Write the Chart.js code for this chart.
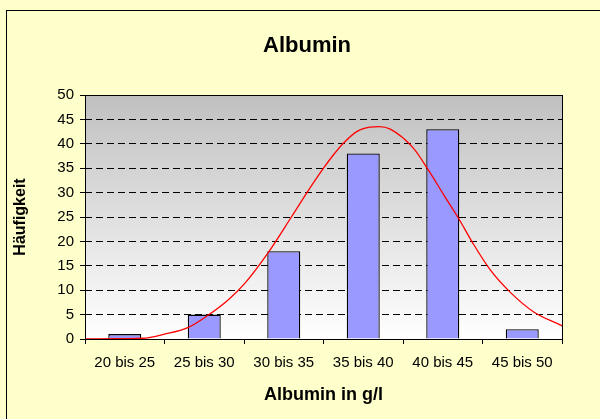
<!DOCTYPE html>
<html>
<head>
<meta charset="utf-8">
<script src="https://cdn.jsdelivr.net/npm/chart.js@4"></script>
<style>
body{margin:0;background:#FFFFCC;}
#wrap{width:600px;height:419px;}
</style>
</head>
<body>
<div id="wrap"><canvas id="albuminChart" width="600" height="419"></canvas></div>
<script>
const categories=['20 bis 25','25 bis 30','30 bis 35','35 bis 40','40 bis 45','45 bis 50'];
const counts=[1,5,18,38,43,2];

// red normal curve (g/l, Häufigkeit)
const curveX=[20,22,23.6,25.0,26.5,27.75,29.0,30.05,31.5,33.0,33.94,35.0,35.62,36.25,37.09,37.92,38.5,39.2,40.65,41.6,42.55,43.5,44.4,45.5,46.8,48.2,50];
const curveY=[0,0.05,0.15,1.0,2.4,4.9,8.0,11.4,17.6,25.1,29.9,35.0,37.7,40.1,42.5,43.4,43.5,43.0,39.1,34.6,29.6,24.7,19.6,14.1,9.4,5.6,2.7];

const FONT='"Liberation Sans", Arial, sans-serif';

const bgPlugin={
id:'excelBg',
beforeDraw(chart){
const {ctx,chartArea:a}=chart;
ctx.save();
ctx.fillStyle='#FFFFCC';
ctx.fillRect(0,0,chart.width,chart.height);
const g=ctx.createLinearGradient(0,a.top,0,a.bottom);
g.addColorStop(0,'#C0C0C0');
g.addColorStop(1,'#FFFFFF');
ctx.fillStyle=g;
ctx.fillRect(a.left,a.top,a.right-a.left,a.bottom-a.top);
ctx.strokeStyle='#000';
ctx.lineWidth=1;
ctx.strokeRect(6.5,10.5,700,500);
ctx.restore();
},
afterDraw(chart){
const {ctx,chartArea:a}=chart;
ctx.save();
ctx.strokeStyle='#000';
ctx.lineWidth=1;
ctx.strokeRect(Math.round(a.left)+0.5,Math.round(a.top)+0.5,Math.round(a.right-a.left),Math.round(a.bottom-a.top));
ctx.restore();
}
};

new Chart(document.getElementById('albuminChart'),{
type:'bar',
data:{
labels:categories,
datasets:[
{
data:counts,
xAxisID:'x',
yAxisID:'y',
backgroundColor:'#9999FF',
borderColor:'#000000',
borderWidth:1.3,
barPercentage:0.415,
categoryPercentage:1,
grouped:false,
order:1
},
{
type:'line',
data:curveX.map((x,i)=>({x:x,y:curveY[i]})),
xAxisID:'x2',
yAxisID:'y',
borderColor:'#FF0000',
borderWidth:1.3,
pointRadius:0,
cubicInterpolationMode:'monotone',
fill:false,
order:0
}
]
},
options:{
responsive:false,
animation:false,
layout:{padding:{left:14,right:0,top:0,bottom:0}},
plugins:{
legend:{display:false},
tooltip:{enabled:false},
title:{
display:true,
text:'Albumin',
color:'#000',
font:{family:FONT,size:22,weight:'bold'},
padding:{top:33,bottom:35.6}
}
},
scales:{
x:{
type:'category',
offset:true,
grid:{display:true,drawOnChartArea:false,offset:true,tickLength:5,color:'#000',tickColor:'#000'},
border:{display:false},
ticks:{color:'#000',font:{family:FONT,size:15},padding:10,maxRotation:0},
title:{display:true,text:'Albumin in g/l',color:'#000',font:{family:FONT,size:18,weight:'bold'},padding:{top:0,bottom:13}},
afterFit(s){s.height=80;}
},
x2:{
type:'linear',
display:false,
min:20,
max:50,
offset:false
},
y:{
min:0,
max:50,
ticks:{stepSize:5,color:'#000',font:{family:FONT,size:15},padding:6},
grid:{
tickLength:5,
tickColor:'#000',
color:(c)=>(c.tick&&(c.tick.value===0||c.tick.value===50))?'rgba(0,0,0,0)':'#000'
},
border:{display:false,dash:[7,4]},
title:{display:true,text:'Häufigkeit',color:'#000',font:{family:FONT,size:16,weight:'bold'},padding:{top:-2.6,bottom:0}},
afterFit(s){s.width=71;}
},
yR:{
position:'right',
display:true,
grid:{display:false},
border:{display:false},
ticks:{display:false},
afterFit(s){s.width=38;}
}
}
},
plugins:[bgPlugin]
});
</script>
</body>
</html>
